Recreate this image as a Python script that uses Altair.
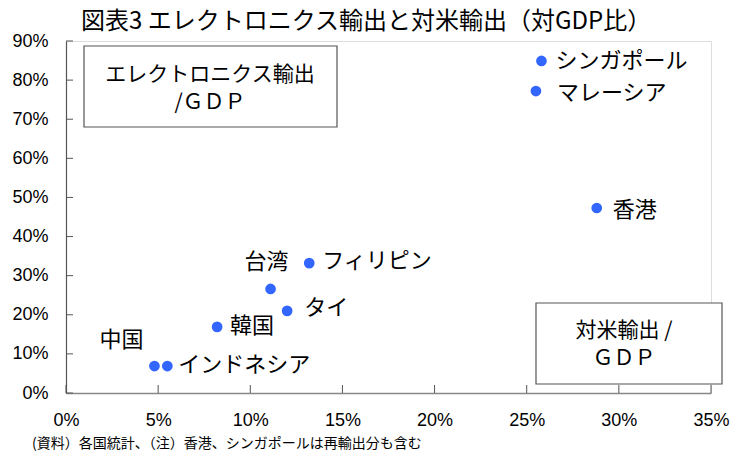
import altair as alt
import pandas as pd

# ---- data ----
names = ["シンガポール", "マレーシア", "香港", "フィリピン", "台湾", "タイ", "韓国", "中国", "インドネシア"]
elec_gdp = [0.258, 0.255, 0.288, 0.132, 0.111, 0.120, 0.082, 0.048, 0.055]
us_gdp = [0.849, 0.772, 0.473, 0.332, 0.266, 0.210, 0.169, 0.069, 0.069]

x_ticks = [0.0, 0.05, 0.10, 0.15, 0.20, 0.25, 0.30, 0.35]
y_ticks = [0.0, 0.1, 0.2, 0.3, 0.4, 0.5, 0.6, 0.7, 0.8, 0.9]

title_text = "図表3 エレクトロニクス輸出と対米輸出（対GDP比）"
note_text = "(資料）各国統計、（注）香港、シンガポールは再輸出分も含む"
box1_text = "エレクトロニクス輸出\n/ＧＤＰ"
box2_text = "対米輸出 /\nＧＤＰ"

# label placement (pixel offsets, alignment) per country
label_style = {
    "シンガポール": (14, 0, "left"),
    "マレーシア": (21, 2, "left"),
    "香港": (16, 2, "left"),
    "フィリピン": (13, -2, "left"),
    "台湾": (18, -27, "right"),
    "タイ": (17, -3, "left"),
    "韓国": (13, -1, "left"),
    "中国": (-11, -26, "right"),
    "インドネシア": (11, -1, "left"),
}

df = pd.DataFrame({"name": names, "elec": elec_gdp, "us": us_gdp})

W, H = 645, 352
JP = "Noto Sans CJK JP"
NUM = "Liberation Sans Narrow, Liberation Sans, Arial"

xs = alt.Scale(domain=[0, 0.35], nice=False, zero=True)
ys = alt.Scale(domain=[0, 0.9], nice=False, zero=True)

x_axis = alt.Axis(values=x_ticks, format=".0%", grid=False, ticks=False,
                  domainColor="#888888", domainWidth=1.5,
                  labelFont=NUM, labelFontSize=18, labelColor="black",
                  labelPadding=18, labelFlush=False, labelOverlap=False)
y_axis = alt.Axis(values=y_ticks, format=".0%", grid=False, ticks=False,
                  domainColor="#555555", domainWidth=1.2,
                  labelFont=NUM, labelFontSize=18, labelColor="black",
                  labelPadding=18, labelFlush=False, labelOverlap=False)


def X(f):
    return alt.X(f, scale=xs, axis=x_axis, title=None)


def Y(f):
    return alt.Y(f, scale=ys, axis=y_axis, title=None)


points = alt.Chart(df).mark_point(filled=True, size=115, color="#3366ff", opacity=1).encode(
    x=X("elec:Q"), y=Y("us:Q")
)

label_layers = []
for n in names:
    dx, dy, al = label_style[n]
    label_layers.append(
        alt.Chart(df).transform_filter(alt.datum.name == n).mark_text(
            dx=dx, dy=dy, align=al, baseline="middle", font=JP, fontSize=22, color="black"
        ).encode(x=X("elec:Q"), y=Y("us:Q"), text="name:N")
    )

xt = pd.DataFrame({"v": x_ticks})
yt = pd.DataFrame({"v": y_ticks})
x_tick_marks = alt.Chart(xt).mark_rule(color="#555555", strokeWidth=1).encode(
    x=X("v:Q"), y=alt.value(H), y2=alt.value(H - 8)
)
y_tick_marks = alt.Chart(yt).mark_rule(color="#555555", strokeWidth=1).encode(
    y=Y("v:Q"), x=alt.value(0), x2=alt.value(7)
)


def box(x0, x1, y0, y1):
    return alt.Chart(pd.DataFrame({"a": [0]})).mark_rect(
        fill="white", stroke="#555555", strokeWidth=1.2
    ).encode(x=alt.value(x0), x2=alt.value(x1), y=alt.value(y0), y2=alt.value(y1))


def txt(s, x, y, size=22, align="center", **kw):
    return alt.Chart(pd.DataFrame({"t": [s]})).mark_text(
        align=align, baseline="middle", font=JP, fontSize=size, color="black", **kw
    ).encode(x=alt.value(x), y=alt.value(y), text="t:N")


box1 = box(18, 271, 5, 86)
box2 = box(470, 656, 262, 343)
b1t = txt(box1_text, 144, 34, size=21, lineBreak="\n", lineHeight=28)
b2t = txt(box2_text, 558, 290, size=21, lineBreak="\n", lineHeight=28)
title = txt(title_text, 15, -19, size=24, align="left")
note = txt(note_text, -34, 403, size=14, align="left")

chart = alt.layer(
    points, box1, box2, b1t, b2t, x_tick_marks, y_tick_marks, *label_layers, title, note
).properties(
    width=W, height=H,
    padding={"left": 66, "top": 41, "right": 31, "bottom": 62},
    autosize=alt.AutoSizeParams(type="none"),
).configure_view(stroke=None).configure(background="white")

chart.save("out.html", embed_options={"renderer": "svg", "actions": False})
